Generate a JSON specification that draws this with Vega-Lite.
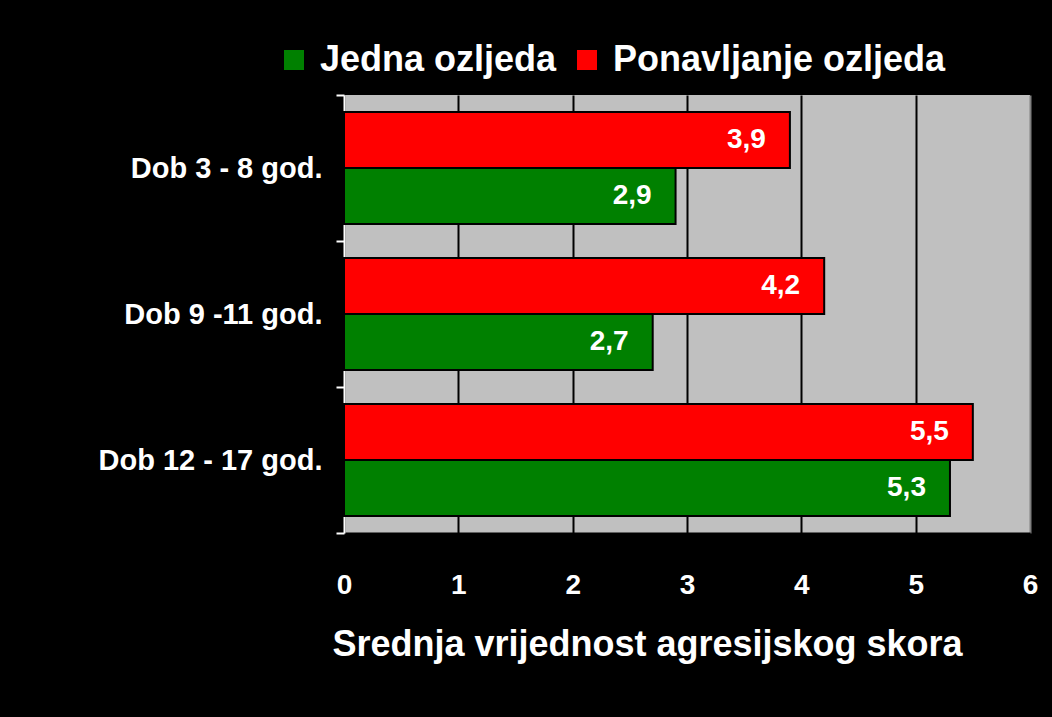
{
  "$schema": "https://vega.github.io/schema/vega-lite/v6.json",
  "width": 686,
  "height": 438,
  "autosize": {"type": "none"},
  "padding": {"left": 344, "top": 95, "right": 22, "bottom": 184},
  "background": "black",
  "config": {
    "font": "Liberation Sans",
    "locale": {"number": {"decimal": ",", "thousands": ".", "grouping": [3], "currency": ["", " €"]}},
    "view": {"fill": "#C0C0C0", "stroke": null},
    "legend": {
      "orient": "none",
      "legendX": -68,
      "legendY": -53,
      "direction": "horizontal",
      "title": null,
      "labelFontSize": 36,
      "labelFontWeight": "bold",
      "labelColor": "white",
      "symbolType": "square",
      "symbolSize": 400,
      "symbolStrokeWidth": 0,
      "symbolOpacity": 1,
      "labelOffset": 8,
      "columnPadding": 12,
      "padding": 0,
      "labelLimit": 0
    }
  },
  "data": {
    "values": [
      {"dob": "Dob 3 - 8 god.", "serija": "Jedna ozljeda", "vrijednost": 2.9},
      {"dob": "Dob 3 - 8 god.", "serija": "Ponavljanje ozljeda", "vrijednost": 3.9},
      {"dob": "Dob 9 -11 god.", "serija": "Jedna ozljeda", "vrijednost": 2.7},
      {"dob": "Dob 9 -11 god.", "serija": "Ponavljanje ozljeda", "vrijednost": 4.2},
      {"dob": "Dob 12 - 17 god.", "serija": "Jedna ozljeda", "vrijednost": 5.3},
      {"dob": "Dob 12 - 17 god.", "serija": "Ponavljanje ozljeda", "vrijednost": 5.5}
    ]
  },
  "encoding": {
    "y": {
      "field": "dob",
      "type": "nominal",
      "sort": ["Dob 3 - 8 god.", "Dob 9 -11 god.", "Dob 12 - 17 god."],
      "scale": {"paddingInner": 0, "paddingOuter": 0},
      "axis": {
        "title": null,
        "tickBand": "extent",
        "labelFontSize": 29,
        "labelFontWeight": "bold",
        "labelColor": "white",
        "labelPadding": 14,
        "labelLimit": 0,
        "tickColor": "white",
        "tickSize": 8,
        "tickWidth": 2,
        "domainColor": "white",
        "domainWidth": 2,
        "grid": false
      }
    },
    "yOffset": {
      "field": "serija",
      "type": "nominal",
      "sort": ["Ponavljanje ozljeda", "Jedna ozljeda"],
      "scale": {"paddingInner": 0, "paddingOuter": 0.304}
    },
    "x": {
      "field": "vrijednost",
      "type": "quantitative",
      "scale": {"domain": [0, 6], "nice": false},
      "axis": {
        "title": "Srednja vrijednost agresijskog skora",
        "titleFontSize": 36,
        "titleFontWeight": "bold",
        "titleColor": "white",
        "titleX": 303,
        "titleY": 122,
        "titleAlign": "center",
        "titleBaseline": "alphabetic",
        "values": [0, 1, 2, 3, 4, 5, 6],
        "format": "d",
        "labelFontSize": 28,
        "labelFontWeight": "bold",
        "labelColor": "white",
        "labelBaseline": "alphabetic",
        "labelPadding": 60,
        "labelFlush": false,
        "ticks": false,
        "tickSize": 0,
        "grid": true,
        "gridColor": {"condition": {"test": "datum.value === 6", "value": "#808080"}, "value": "black"},
        "gridWidth": 2,
        "domainColor": "black",
        "domainWidth": 2
      }
    }
  },
  "layer": [
    {
      "mark": {"type": "bar", "stroke": "black", "strokeWidth": 2},
      "encoding": {
        "color": {
          "field": "serija",
          "type": "nominal",
          "scale": {"domain": ["Jedna ozljeda", "Ponavljanje ozljeda"], "range": ["#008000", "#FF0000"]}
        }
      }
    },
    {
      "mark": {"type": "text", "align": "right", "baseline": "middle", "dx": -24, "color": "white", "fontSize": 28, "fontWeight": "bold"},
      "encoding": {
        "text": {"field": "vrijednost", "type": "quantitative", "format": ".1f"}
      }
    }
  ]
}
